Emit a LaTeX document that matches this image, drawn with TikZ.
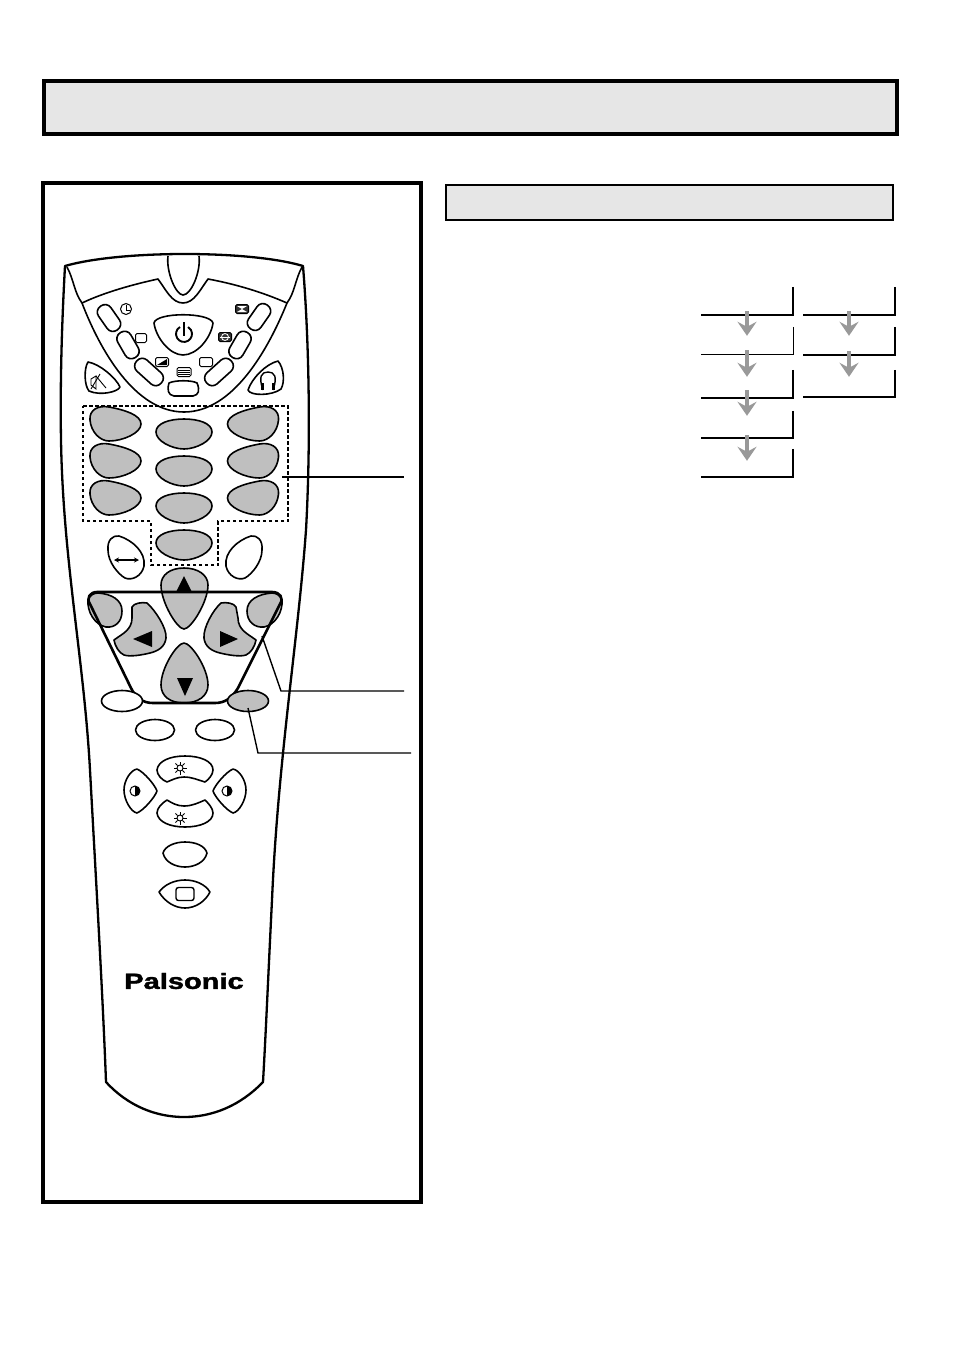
\documentclass[tikz,border=0pt]{standalone}
\usepackage{fontspec}
\setmainfont{Liberation Sans}
\newfontfamily\logofont[FakeBold=1.6]{Liberation Sans Bold}
\usetikzlibrary{arrows.meta,shapes.geometric}
\definecolor{keygray}{HTML}{BFBFBF}
\definecolor{bargray}{HTML}{E6E6E6}
\definecolor{flowgray}{HTML}{999999}
\tikzset{
  frame/.style={draw=black, line width=4pt},
  shell/.style={draw=black, line width=2.3pt, line join=round},
  btn/.style={draw=black, line width=1.6pt, fill=white, line join=round},
  graybtn/.style={btn, fill=keygray},
  pill/.style={btn, rectangle, rounded corners=7pt, minimum height=15pt, inner sep=0pt},
  oval/.style={btn, ellipse, minimum width=41pt, minimum height=21pt, inner sep=0pt},
  leader/.style={draw=black, line width=1.4pt},
  stepbox/.style={rectangle, inner sep=0pt, minimum width=92pt},
  bracket/.style={draw=black, line width=2.3pt},
  stepflow/.style={draw=flowgray, line width=3.5pt, -{Stealth[width=19pt,length=14pt,inset=5pt]}},
  tinyicon/.style={draw=black, line width=1pt, fill=white, rounded corners=1.5pt, inner sep=0pt},
  darkicon/.style={tinyicon, fill=black!80},
  pics/keyside/.style={code={
    \draw[graybtn] (-25,-4) .. controls (-26,-14) and (-17,-19) .. (-6,-17)
      .. controls (10,-14) and (26,-9) .. (26,0) .. controls (26,9) and (8,17) .. (-6,17)
      .. controls (-15,17) and (-24,8) .. cycle;
  }},
  pics/keymid/.style={code={
    \draw[graybtn] (-28,0) .. controls (-28,-9) and (-14,-13) .. (0,-13)
      .. controls (14,-13) and (28,-9) .. (28,0) .. controls (28,9) and (12,17) .. (0,17)
      .. controls (-12,17) and (-28,9) .. cycle;
  }},
  pics/sun/.style={code={
    \draw[line width=0.9pt] (0,0) circle (3);
    \foreach \ang in {0,45,...,315}
      \draw[line width=0.9pt] (\ang:3.4) -- (\ang:6.5);
  }},
  pics/halfdisc/.style={code={
    \draw[line width=1pt, fill=white] (0,0) circle (5);
    \fill[black] (0,-5) arc (-90:90:5) -- cycle;
  }}
}
\begin{document}
\begin{tikzpicture}[x=1pt, y=-1pt]
\useasboundingbox (0,0) rectangle (954,1349);

% page frames
\draw[frame, fill=bargray] (44,81) rectangle (897,134);
\draw[frame] (43,183) rectangle (421,1202);
\draw[frame, fill=bargray, line width=2.6pt] (446,185) rectangle (893,220);

% remote body
\draw[shell] (65,266) .. controls (120,250) and (250,250) .. (303,266)
  .. controls (309,340) and (311,440) .. (306,530)
  .. controls (298,640) and (278,760) .. (272,900)
  .. controls (268,980) and (266,1030) .. (263,1082)
  .. controls (240,1106) and (212,1117) .. (184,1117)
  .. controls (156,1117) and (128,1106) .. (106,1082)
  .. controls (103,1000) and (96,880) .. (90,770)
  .. controls (84,660) and (63,560) .. (61,440)
  .. controls (60,380) and (62,320) .. (65,266) -- cycle;

% top band and V of the upper keys
\draw[btn, fill=none] (67,267) .. controls (74,280) and (74,292) .. (82,303)
  .. controls (100,350) and (135,412) .. (184,412)
  .. controls (233,412) and (268,350) .. (287,303)
  .. controls (295,292) and (295,280) .. (302,267);
\draw[btn, fill=none] (82,303) .. controls (105,292) and (135,284) .. (158,279)
  .. controls (166,290) and (172,303) .. (183,303)
  .. controls (194,303) and (200,290) .. (208,279)
  .. controls (235,284) and (262,292) .. (287,303);
\draw[btn] (168,256) .. controls (166,272) and (176,295) .. (183,295)
  .. controls (191,295) and (201,272) .. (199,256);

% upper keys
\node[pill, minimum width=29pt, rotate=-55] (timer) at (109,318) {};
\node[pill, minimum width=29pt, rotate=-60] (recall) at (128,345) {};
\node[pill, minimum width=33pt, rotate=-42] (picture) at (149,372) {};
\node[pill, minimum width=33pt, rotate=42] (text) at (219,372) {};
\node[pill, minimum width=29pt, rotate=60] (wide) at (240,345) {};
\node[pill, minimum width=29pt, rotate=55] (zoom) at (259,317) {};
\draw[btn] (169,383) .. controls (175,380) and (192,380) .. (197,383)
  .. controls (200,390) and (199,395) .. (193,396) -- (174,396)
  .. controls (168,395) and (167,390) .. (169,383) -- cycle;

% upper icons
\node[tinyicon, circle, minimum size=11pt] (clock) at (126,309) {};
\draw[line width=0.9pt] (126,305) -- (126,310) -- (130,310);
\node[tinyicon, minimum width=11pt, minimum height=9pt] (boxa) at (141,338) {};
\node[tinyicon, minimum width=13pt, minimum height=9pt] (boxb) at (206,362) {};
\node[tinyicon, minimum width=13pt, minimum height=9pt] (boxc) at (162,362) {};
\fill (157,365) -- (167,359) -- (167,365) -- cycle;
\node[tinyicon, minimum width=14pt, minimum height=9pt] (boxd) at (184,372) {};
\foreach \yy in {370,372,374}
  \draw[line width=0.7pt] (178,\yy) -- (190,\yy);
\node[darkicon, minimum width=13pt, minimum height=9pt] (boxe) at (225,337) {};
\draw[white, line width=0.8pt] (225,337) circle (3.5);
\draw[white, line width=0.6pt] (220,337) -- (230,337);
\node[darkicon, minimum width=13pt, minimum height=9pt] (boxf) at (242,309) {};
\fill[white] (237,306) -- (247,306) -- (242,309) -- cycle;
\fill[white] (237,312) -- (247,312) -- (242,309) -- cycle;

% power key
\draw[btn] (154,323) .. controls (156,312) and (210,312) .. (213,323)
  .. controls (211,338) and (197,355) .. (183,355)
  .. controls (170,355) and (156,338) .. (154,323) -- cycle;
\draw[line width=1.9pt] (180,327) arc (-120:-420:8);
\draw[line width=1.9pt] (184,322) -- (184,336);

% mute and headphone keys
\draw[btn] (88,362) .. controls (100,364) and (116,378) .. (120,387)
  .. controls (118,392) and (100,396) .. (89,391)
  .. controls (84,385) and (84,368) .. (88,362) -- cycle;
\draw[btn] (278,361) .. controls (266,364) and (252,378) .. (248,390)
  .. controls (250,396) and (272,396) .. (281,389)
  .. controls (285,382) and (284,368) .. (278,361) -- cycle;
\draw[line width=0.9pt] (91,379) -- (96,376) -- (96,389) -- (91,385) -- cycle;
\draw[line width=0.9pt] (96,376) -- (106,388);
\draw[line width=0.9pt] (91,389) -- (100,374);
\draw[line width=1.4pt] (263,390) .. controls (258,376) and (262,372) .. (268,372)
  .. controls (274,372) and (278,376) .. (273,390);
\fill (261,383) rectangle (264,390);
\fill (272,383) rectangle (275,390);

% number keys
\foreach \yy in {424,461,498} {
  \pic at (115,\yy) {keyside};
  \pic[xscale=-1] at (253.5,\yy) {keyside};
}
\foreach \yy in {432,469,506,543}
  \pic at (184,\yy) {keymid};
\draw[line width=1.2pt, dash pattern=on 3.5pt off 2.5pt] (83,406) -- (288,406) -- (288,521) -- (218,521)
  -- (218,565) -- (151,565) -- (151,521) -- (83,521) -- cycle;

% swap and blank keys
\draw[btn] (108,550) .. controls (107,540) and (113,535) .. (119,536)
  .. controls (132,540) and (146,552) .. (144,566)
  .. controls (142,576) and (132,581) .. (125,578)
  .. controls (118,574) and (108,562) .. (108,550) -- cycle;
\draw[btn] (262,550) .. controls (263,540) and (257,535) .. (251,536)
  .. controls (238,540) and (224,552) .. (226,566)
  .. controls (228,576) and (238,581) .. (245,578)
  .. controls (252,574) and (262,562) .. (262,550) -- cycle;
\draw[line width=1.1pt, {Stealth[length=5pt,width=5pt]}-{Stealth[length=5pt,width=5pt]}] (114,560) -- (139,560);

% cursor keys
\draw[graybtn] (184,568) .. controls (198,568) and (208,575) .. (208,585)
  .. controls (208,602) and (191,629) .. (184,629)
  .. controls (177,629) and (161,602) .. (161,585)
  .. controls (161,575) and (170,568) .. (184,568) -- cycle;
\draw[graybtn] (184,643) .. controls (191,643) and (208,668) .. (208,685)
  .. controls (208,696) and (198,703) .. (184,703)
  .. controls (170,703) and (161,696) .. (161,685)
  .. controls (161,668) and (177,643) .. (184,643) -- cycle;
\draw[graybtn] (132,607) .. controls (134,603) and (142,602) .. (147,603)
  .. controls (155,610) and (167,628) .. (166,638)
  .. controls (165,647) and (158,651) .. (150,653)
  .. controls (142,655) and (130,657) .. (124,655)
  .. controls (119,653) and (115,646) .. (114,640)
  .. controls (122,634) and (132,630) .. (132,618) -- cycle;
\draw[graybtn] (236,607) .. controls (234,603) and (226,602) .. (221,603)
  .. controls (213,610) and (203,628) .. (204,638)
  .. controls (205,647) and (212,651) .. (220,653)
  .. controls (228,655) and (240,657) .. (246,655)
  .. controls (251,653) and (255,646) .. (256,640)
  .. controls (248,634) and (238,630) .. (238,618) -- cycle;
\draw[graybtn] (88,600) .. controls (90,595) and (94,593) .. (98,593)
  .. controls (112,594) and (122,600) .. (122,611)
  .. controls (122,622) and (115,628) .. (106,627)
  .. controls (95,625) and (87,612) .. (88,600) -- cycle;
\draw[graybtn] (282,600) .. controls (280,595) and (276,593) .. (272,593)
  .. controls (258,594) and (247,600) .. (247,611)
  .. controls (247,622) and (255,628) .. (264,627)
  .. controls (275,625) and (283,612) .. (282,600) -- cycle;

% trapezoid
\draw[shell, line width=2.6pt] (97,592) -- (272,592) .. controls (280,592) and (284,598) .. (280,604)
  -- (238,688) .. controls (232,698) and (225,703) .. (215,703) -- (153,703)
  .. controls (143,703) and (136,698) .. (131,688)
  -- (90,604) .. controls (86,598) and (90,592) .. (97,592) -- cycle;

% arrow heads
\fill (184,576) -- (192,592) -- (176,592) -- cycle;
\fill (133,639) -- (152,631) -- (152,647) -- cycle;
\fill (238,639) -- (220,631) -- (220,647) -- cycle;
\fill (177,678) -- (193,678) -- (185,696) -- cycle;

% lower keys
\node[oval] (red) at (122,701) {};
\node[oval, fill=keygray] (sleep) at (248,701) {};
\node[oval, minimum width=39pt] (green) at (155,730) {};
\node[oval, minimum width=39pt] (blue) at (215,730) {};

% brightness and contrast
\draw[btn] (157,770) .. controls (158,761) and (170,756) .. (185,756)
  .. controls (200,756) and (213,761) .. (213,770)
  .. controls (213,775) and (208,780) .. (205,782)
  .. controls (198,780) and (192,777) .. (184,777)
  .. controls (177,777) and (172,780) .. (167,782)
  .. controls (162,780) and (157,775) .. (157,770) -- cycle;
\draw[btn] (157,813) .. controls (158,822) and (170,827) .. (185,827)
  .. controls (200,827) and (213,822) .. (213,813)
  .. controls (213,808) and (208,803) .. (205,800)
  .. controls (198,803) and (192,806) .. (184,806)
  .. controls (177,806) and (172,803) .. (167,800)
  .. controls (162,803) and (157,808) .. (157,813) -- cycle;
\draw[btn] (124,790) .. controls (124,780) and (131,770) .. (137,769)
  .. controls (144,772) and (155,785) .. (157,791)
  .. controls (155,797) and (144,810) .. (137,813)
  .. controls (131,812) and (124,800) .. (124,790) -- cycle;
\draw[btn] (246,790) .. controls (246,780) and (239,770) .. (233,769)
  .. controls (226,772) and (215,785) .. (213,791)
  .. controls (215,797) and (226,810) .. (233,813)
  .. controls (239,812) and (246,800) .. (246,790) -- cycle;
\pic at (180,768) {sun};
\pic at (180,818) {sun};
\pic at (135,791) {halfdisc};
\pic at (227,791) {halfdisc};

% bottom keys
\draw[btn] (163,853) .. controls (165,846) and (175,842) .. (185,842)
  .. controls (196,842) and (205,846) .. (207,853)
  .. controls (205,862) and (195,867) .. (185,867)
  .. controls (175,867) and (165,862) .. (163,853) -- cycle;
\draw[btn] (159,892) .. controls (165,884) and (175,880) .. (185,880)
  .. controls (195,880) and (205,884) .. (210,892)
  .. controls (205,902) and (195,908) .. (185,908)
  .. controls (175,908) and (165,902) .. (159,892) -- cycle;
\node[tinyicon, line width=1.4pt, rounded corners=2.5pt, minimum width=18pt, minimum height=13pt] (tvbox) at (185,894) {};

% logo
\node[inner sep=0pt] (logo) at (184,981) {\scalebox{1.32}[1]{\logofont\fontsize{22pt}{22pt}\selectfont Palsonic}};

% leaders
\coordinate (keypadend) at (282,477);
\coordinate (keypadtip) at (404,477);
\coordinate (cursorend) at (262,636);
\coordinate (cursorbend) at (281,691);
\coordinate (cursortip) at (404,691);
\coordinate (sleepend) at (248,708);
\coordinate (sleepbend) at (258,753);
\coordinate (sleeptip) at (411,753);
\draw[leader] (keypadend) -- (keypadtip);
\draw[leader] (cursorend) -- (cursorbend) -- (cursortip);
\draw[leader] (sleepend) -- (sleepbend) -- (sleeptip);

% step chart
\node[stepbox, minimum height=28pt] (a1) at (747,301) {};
\node[stepbox, minimum height=27pt] (a2) at (747,340.5) {};
\node[stepbox, minimum height=28pt] (a3) at (747,384) {};
\node[stepbox, minimum height=27pt] (a4) at (747,424.5) {};
\node[stepbox, minimum height=28pt] (a5) at (747,463) {};
\node[stepbox, minimum height=28pt] (b1) at (849,301) {};
\node[stepbox, minimum height=28pt] (b2) at (849,341) {};
\node[stepbox, minimum height=27pt] (b3) at (849,383.5) {};
\foreach \name in {a1,a3,a4,a5,b1,b2,b3}
  \draw[bracket] (\name.north east) |- (\name.south west);
\draw[bracket, line width=1.2pt] (a2.north east) |- (a2.south west);
\draw[stepflow] ([yshift=4pt]a1.south) -- ([yshift=-9pt]a2.north);
\draw[stepflow] ([yshift=4pt]a2.south) -- ([yshift=-7pt]a3.north);
\draw[stepflow] ([yshift=8pt]a3.south) -- ([yshift=-5pt]a4.north);
\draw[stepflow] ([yshift=3pt]a4.south) -- ([yshift=-12pt]a5.north);
\draw[stepflow] ([yshift=4pt]b1.south) -- ([yshift=-9pt]b2.north);
\draw[stepflow] ([yshift=4pt]b2.south) -- ([yshift=-7pt]b3.north);
\end{tikzpicture}
\end{document}
